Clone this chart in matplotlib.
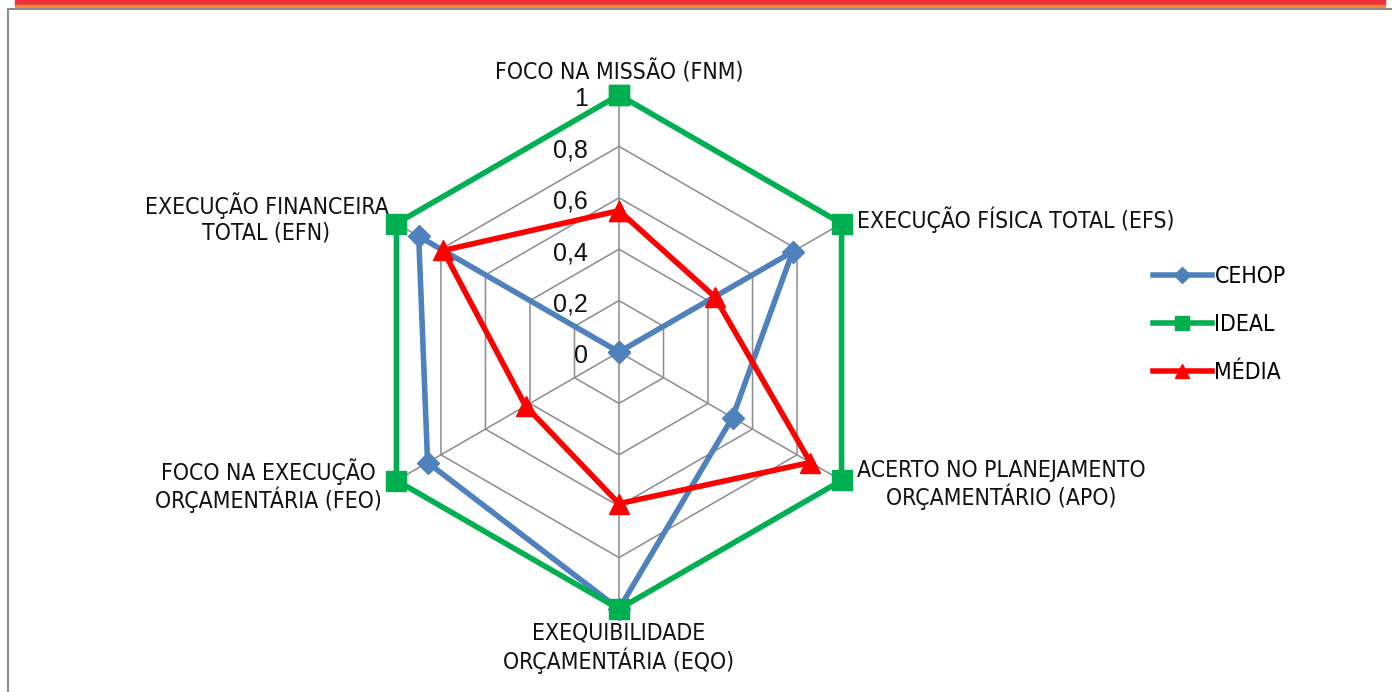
import numpy as np
import matplotlib.pyplot as plt
from matplotlib.lines import Line2D
from matplotlib.patches import Rectangle

# axis categories, clockwise from the top
categories = ['FOCO NA MISSÃO (FNM)',
              'EXECUÇÃO FÍSICA TOTAL (EFS)',
              'ACERTO NO PLANEJAMENTO\nORÇAMENTÁRIO (APO)',
              'EXEQUIBILIDADE\nORÇAMENTÁRIA (EQO)',
              'FOCO NA EXECUÇÃO\nORÇAMENTÁRIA (FEO)',
              'EXECUÇÃO FINANCEIRA\nTOTAL (EFN)']
cehop = [0.0, 0.78, 0.51, 1.0, 0.86, 0.90]
ideal = [1.0, 1.0, 1.0, 1.0, 1.0, 1.0]
media = [0.55, 0.43, 0.86, 0.59, 0.42, 0.79]
rings = [0.2, 0.4, 0.6, 0.8, 1.0]
ring_labels = ['0', '0,2', '0,4', '0,6', '0,8', '1']

narrow = {'family': ['DejaVu Sans'], 'stretch': 'condensed', 'size': 16.5}

fig = plt.figure(figsize=(13.92, 6.92), dpi=100)

# header stripe and frame
fig.patches.append(Rectangle((15 / 1392, 1 - 5 / 692), 1370 / 1392, 5 / 692,
                             transform=fig.transFigure, color='#ee3338', zorder=0))
fig.patches.append(Rectangle((15 / 1392, 1 - 7.5 / 692), 1370 / 1392, 2.5 / 692,
                             transform=fig.transFigure, color='#f68a3a', zorder=0))
fig.lines.append(Line2D([7.5 / 1392, 7.5 / 1392, 1.0], [0, 1 - 9 / 692, 1 - 9 / 692],
                        transform=fig.transFigure, color='#8c8c8c', lw=1.5))

ax = fig.add_axes([362 / 1392, 83 / 692, 514 / 1392, 514 / 692], projection='polar')
ax.set_theta_zero_location('N')
ax.set_theta_direction(-1)
ax.set_ylim(0, 1)
ax.grid(False)
ax.spines['polar'].set_visible(False)
ax.set_xticks([])
ax.set_yticks([])
ax.patch.set_alpha(0)

n = len(categories)
theta = np.linspace(0, 2 * np.pi, n, endpoint=False)
closed = np.append(theta, theta[0])

# hexagonal grid
for r in rings:
    ax.plot(closed, [r] * (n + 1), color='#8c8c8c', lw=1.1, zorder=1)
for t in theta:
    ax.plot([t, t], [0, 1], color='#8c8c8c', lw=1.1, zorder=1)

def close(v):
    return list(v) + [v[0]]

ax.plot(closed, close(cehop), color='#4f81bd', lw=4, marker='D', ms=11, zorder=3, clip_on=False)
ax.plot(closed, close(ideal), color='#00b050', lw=4, marker='s', ms=14, zorder=4, clip_on=False)
ax.plot(closed, close(media), color='#ff0000', lw=4, marker='^', ms=14, zorder=5, clip_on=False)

# radial tick labels left of the top spoke
for val, lab in zip([0] + rings, ring_labels):
    ax.annotate(lab, xy=(0, val), xytext=(-31, -4), textcoords='offset pixels',
                ha='right', va='center', fontsize=18, family='Liberation Sans',
                color='#111111', zorder=6)

# category labels around the outside
offsets = [(0, 11, 'center', 'bottom'),
           (15, 4, 'left', 'center'),
           (15, -4, 'left', 'center'),
           (0, -13, 'center', 'top'),
           (-15, -5, 'right', 'center'),
           (-8, 5, 'right', 'center')]
for t, lab, (dx, dy, ha, va) in zip(theta, categories, offsets):
    ax.annotate(lab, xy=(t, 1), xytext=(dx, dy), textcoords='offset pixels',
                ha=ha, va=va, multialignment='center', color='#111111',
                linespacing=1.1, annotation_clip=False, **narrow)

handles = [Line2D([], [], color='#4f81bd', lw=4, marker='D', ms=8),
           Line2D([], [], color='#00b050', lw=4, marker='s', ms=10),
           Line2D([], [], color='#ff0000', lw=4, marker='^', ms=10)]
fig.legend(handles, ['CEHOP', 'IDEAL', 'MÉDIA'], loc='upper left',
           bbox_to_anchor=(1132 / 1392, 1 - 244 / 692), frameon=False,
           handlelength=2.6, handletextpad=0.1, labelspacing=1.1,
           prop=narrow)

fig.savefig('out.png', dpi=100)
